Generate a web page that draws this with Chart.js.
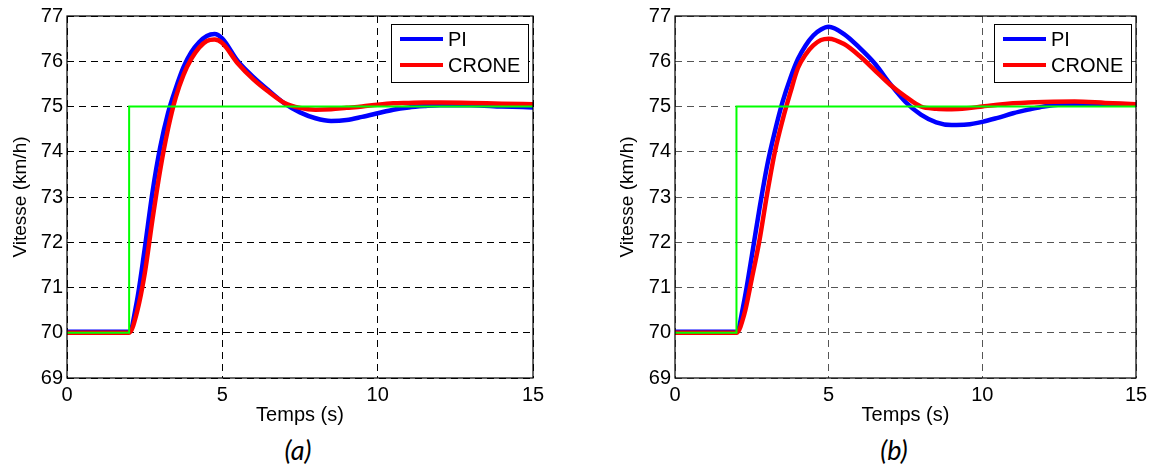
<!DOCTYPE html>
<html>
<head>
<meta charset="utf-8">
<script src="https://cdn.jsdelivr.net/npm/chart.js@4/dist/chart.umd.min.js"></script>
<style>
    body { margin: 0; background: #fff; }
    #wrap { position: relative; width: 1154px; height: 470px; background: #fff; }
    .pane { position: absolute; top: 0; width: 577px; height: 430px; }
    .caption {
        position: absolute; top: 433px; width: 80px; text-align: center;
        font-family: Lato, "Open Sans", sans-serif; font-style: italic; font-size: 27px; color: #000;
    }
</style>
</head>
<body>
<div id="wrap">
    <div class="pane" style="left:0"><canvas id="chartA" width="577" height="430"></canvas></div>
    <div class="pane" style="left:577px"><canvas id="chartB" width="577" height="430"></canvas></div>
    <div class="caption" style="left:258px">(a)</div>
    <div class="caption" style="left:854px">(b)</div>
</div>
<script>
// time samples (s)
const timeA = [0, 2, 2.25, 2.5, 2.75, 3, 3.25, 3.5, 3.75, 4, 4.25, 4.5, 4.75, 5,
    5.5, 6, 6.5, 7, 7.5, 8, 8.5, 9, 9.5, 10, 10.5, 11, 11.5, 12, 13, 14, 15];
const timeB = timeA;

// (a) speeds (km/h)
const piA = [70.02, 70.02, 70.7, 71.85, 73.1, 74.1, 74.85, 75.4, 75.87, 76.2, 76.42, 76.56, 76.6, 76.5,
    76.0, 75.65, 75.35, 75.07, 74.87, 74.74, 74.68, 74.7, 74.77, 74.85, 74.93, 74.98, 75.01, 75.03, 75.03, 75.0, 74.98];
const croneA = [70.0, 70.0, 70.45, 71.3, 72.5, 73.6, 74.5, 75.2, 75.7, 76.05, 76.3, 76.45, 76.48, 76.4,
    75.95, 75.6, 75.32, 75.08, 74.97, 74.93, 74.94, 74.97, 75.0, 75.04, 75.07, 75.08, 75.09, 75.09, 75.08, 75.06, 75.05];

// (b) speeds (km/h)
const piB = [70.02, 70.02, 70.7, 71.7, 72.75, 73.7, 74.45, 75.1, 75.62, 76.05, 76.35, 76.57, 76.7, 76.76,
    76.6, 76.3, 75.95, 75.5, 75.1, 74.82, 74.65, 74.59, 74.6, 74.66, 74.75, 74.85, 74.93, 75.0, 75.06, 75.06, 75.04];
const croneB = [70.0, 70.0, 70.4, 71.2, 72.05, 73.08, 74.0, 74.7, 75.3, 75.85, 76.15, 76.35, 76.47, 76.5,
    76.38, 76.12, 75.8, 75.48, 75.22, 75.0, 74.95, 74.94, 74.96, 75.0, 75.04, 75.07, 75.09, 75.1, 75.11, 75.08, 75.05];

// speed setpoint (step at t = 2 s)
const refTime = [0, 2, 2, 15];
const refSpeed = [70, 70, 75, 75];

const seriesNames = ["PI", "CRONE"];
const xTicks = [0, 5, 10, 15];
const yTicks = [69, 70, 71, 72, 73, 74, 75, 76, 77];

const FONT = "'Liberation Sans', Arial, sans-serif";

function toPoints(xs, ys) {
    return xs.map((x, i) => ({ x: x, y: ys[i] }));
}

// black frame round the plot + legend box in the upper right corner
const framePlugin = {
    id: "frame",
    afterDraw(chart) {
        const { ctx, chartArea: a } = chart;
        ctx.save();
        ctx.strokeStyle = "#000";
        ctx.lineWidth = 1.2;
        ctx.setLineDash([]);
        ctx.strokeRect(a.left, a.top, a.right - a.left, a.bottom - a.top);

        const bw = 137, bh = 58;
        const bx = a.right - bw - 5, by = a.top + 8;
        ctx.fillStyle = "#fff";
        ctx.fillRect(bx, by, bw, bh);
        ctx.lineWidth = 1;
        ctx.strokeRect(bx + 0.5, by + 0.5, bw, bh);
        ctx.font = "20px " + FONT;
        ctx.textBaseline = "middle";
        seriesNames.forEach((name, i) => {
            const ds = chart.data.datasets.find(d => d.label === name);
            const y = by + 15 + i * 26;
            ctx.strokeStyle = ds.borderColor;
            ctx.lineWidth = 4;
            ctx.beginPath();
            ctx.moveTo(bx + 9, y);
            ctx.lineTo(bx + 52, y);
            ctx.stroke();
            ctx.fillStyle = "#000";
            ctx.fillText(name, bx + 57, y + 1);
        });
        ctx.restore();
    }
};

function makeChart(id, pi, crone, times, cfg) {
    const ctx = document.getElementById(id).getContext("2d");
    return new Chart(ctx, {
        type: "line",
        data: {
            datasets: [{
                    label: "",
                    data: toPoints(refTime, refSpeed),
                    borderColor: "rgb(0, 255, 0)",
                    borderWidth: 2,
                    tension: 0,
                },
                {
                    label: "CRONE",
                    data: toPoints(times, crone),
                    borderColor: "rgb(255, 0, 0)",
                    borderWidth: 4.5,
                    cubicInterpolationMode: "monotone",
                },
                {
                    label: "PI",
                    data: toPoints(times, pi),
                    borderColor: "rgb(0, 0, 255)",
                    borderWidth: 4.5,
                    cubicInterpolationMode: "monotone",
                },
            ],
        },
        options: {
            responsive: false,
            animation: false,
            devicePixelRatio: 1,
            elements: { point: { radius: 0 } },
            layout: { padding: { left: 0, top: cfg.top, right: cfg.right, bottom: 0 } },
            plugins: { legend: { display: false }, tooltip: { enabled: false } },
            scales: {
                x: {
                    type: "linear",
                    min: 0,
                    max: 15,
                    afterBuildTicks: s => { s.ticks = xTicks.map(v => ({ value: v })); },
                    afterFit: s => { s.height = 52; },
                    grid: { color: cfg.grid, lineWidth: 1, drawTicks: false },
                    border: { display: false, dash: [7, 5] },
                    ticks: { color: "#000", padding: 5, font: { family: FONT, size: 20 } },
                    title: {
                        display: true,
                        text: "Temps (s)",
                        color: "#000",
                        padding: { top: 0, bottom: 3 },
                        font: { family: FONT, size: 20 },
                    },
                },
                y: {
                    min: 69,
                    max: 77,
                    afterBuildTicks: s => { s.ticks = yTicks.map(v => ({ value: v })); },
                    afterFit: s => { s.width = cfg.yWidth; },
                    grid: { color: cfg.grid, lineWidth: 1, drawTicks: false },
                    border: { display: false, dash: [7, 5] },
                    ticks: { color: "#000", padding: 4, font: { family: FONT, size: 20 } },
                    title: {
                        display: true,
                        text: "Vitesse (km/h)",
                        color: "#000",
                        padding: { top: cfg.titlePad, bottom: 0 },
                        font: { family: FONT, size: 19 },
                    },
                },
            },
        },
        plugins: [framePlugin],
    });
}

document.addEventListener("DOMContentLoaded", function() {
    makeChart("chartA", piA, croneA, timeA, { top: 15, right: 44, yWidth: 67, titlePad: 9, grid: "#000" });
    makeChart("chartB", piB, croneB, timeB, { top: 16, right: 18, yWidth: 98, titlePad: 39, grid: "#555" });
});
</script>
</body>
</html>
